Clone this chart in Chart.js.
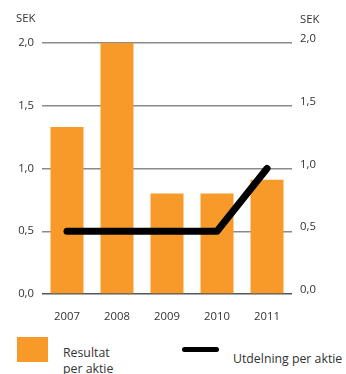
<!DOCTYPE html>
<html>
<head>
<meta charset="utf-8">
<script src="https://cdn.jsdelivr.net/npm/chart.js@4"></script>
<style>
  body { margin: 0; background: #fff; font-family: "Open Sans", sans-serif; color: #333; }
  #wrap { position: relative; width: 346px; height: 374px; overflow: hidden; }
  #chart { position: absolute; left: 0; top: 0; }
  .box { position: absolute; left: 17px; top: 337px; width: 31px; height: 25px; background: #f79a2a; }
  .line { position: absolute; left: 182px; top: 347px; width: 37px; height: 5px; background: #000; border-radius: 3px; }
  .txt { position: absolute; font-size: 12.3px; line-height: 16px; color: #333; }
</style>
</head>
<body>
<div id="wrap">
  <canvas id="chart" width="346" height="322"></canvas>
  <div class="box"></div>
  <div class="txt" style="left:63px; top:345px;">Resultat<br>per aktie</div>
  <div class="line"></div>
  <div class="txt" style="left:233px; top:351px;">Utdelning per aktie</div>
</div>
<script>
var years = ['2007', '2008', '2009', '2010', '2011'];
var resultat = [1.33, 2.0, 0.8, 0.8, 0.91];
var utdelning = [0.5, 0.5, 0.5, 0.5, 1.0];
var yTicks = [0, 0.5, 1.0, 1.5, 2.0];

var tickFont = { family: 'Open Sans', size: 11.3 };

// "SEK" above both y axes
var sekPlugin = {
    id: 'sek',
    afterDraw: function(chart) {
        var ctx = chart.ctx;
        var area = chart.chartArea;
        ctx.save();
        ctx.font = '11.3px "Open Sans"';
        ctx.fillStyle = '#333';
        ctx.textBaseline = 'middle';
        ctx.textAlign = 'left';
        ctx.fillText('SEK', area.left - 26, area.top - 24);
        ctx.fillText('SEK', area.right + 8, area.top - 23);
        ctx.restore();
    }
};

function fmt(v) {
    return v.toFixed(1).replace('.', ',');
}

new Chart(document.getElementById('chart'), {
    type: 'bar',
    data: {
        labels: years,
        datasets: [{
            type: 'line',
            label: 'Utdelning per aktie',
            data: utdelning,
            borderColor: '#000',
            borderWidth: 7,
            borderCapStyle: 'round',
            borderJoinStyle: 'round',
            pointRadius: 0,
            fill: false,
            yAxisID: 'y',
            order: 0
        }, {
            label: 'Resultat per aktie',
            data: resultat,
            backgroundColor: '#f79a2a',
            categoryPercentage: 1,
            barPercentage: 0.66,
            yAxisID: 'y',
            order: 1
        }]
    },
    options: {
        responsive: false,
        animation: false,
        layout: { padding: { top: 43, left: 0, right: 0, bottom: 0 } },
        plugins: {
            legend: { display: false },
            tooltip: { enabled: false }
        },
        scales: {
            x: {
                grid: { display: false },
                border: { display: false },
                ticks: { color: '#333', font: tickFont, padding: 8, maxRotation: 0 },
                afterFit: function(s) { s.height = 28; }
            },
            y: {
                position: 'left',
                min: 0,
                max: 2,
                afterBuildTicks: function(s) { s.ticks = yTicks.map(function(v) { return { value: v }; }); },
                grid: {
                    drawTicks: false,
                    color: function(c) { return c.tick && c.tick.value === 0 ? '#555' : '#8a8a8a'; },
                    lineWidth: 1.5
                },
                border: { display: false },
                ticks: { color: '#333', font: tickFont, padding: 8, callback: function(v) { return fmt(v); } },
                afterFit: function(s) { s.width = 42; }
            },
            y1: {
                position: 'right',
                min: 0,
                max: 2,
                afterBuildTicks: function(s) { s.ticks = yTicks.map(function(v) { return { value: v }; }); },
                grid: { display: false, drawTicks: false },
                border: { display: false },
                ticks: { color: '#333', font: tickFont, padding: 8, labelOffset: -4, callback: function(v) { return fmt(v); } },
                afterFit: function(s) { s.width = 54; }
            }
        }
    },
    plugins: [sekPlugin]
});
</script>
</body>
</html>
